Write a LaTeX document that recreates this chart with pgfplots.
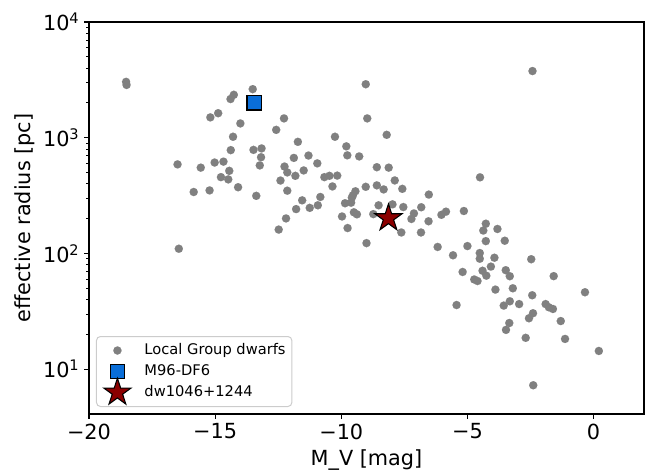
\documentclass[border=0pt]{standalone}
\usepackage{fontspec}
\setmainfont{DejaVu Sans}
\usepackage{pgfplots}
\pgfplotsset{compat=1.18}
\usepackage{pgfplotstable}

\definecolor{dotgray}{HTML}{808080}
\definecolor{dfblue}{HTML}{0A6ED8}
\definecolor{stared}{HTML}{8B0000}
\definecolor{legframe}{HTML}{CCCCCC}

% filled five-pointed star, inner radius as matplotlib's '*'
\pgfdeclareplotmark{fivestar}{%
  \pgfpathmoveto{\pgfpointpolar{90}{\pgfplotmarksize}}%
  \pgfpathlineto{\pgfpointpolar{126}{0.382\pgfplotmarksize}}%
  \pgfpathlineto{\pgfpointpolar{162}{\pgfplotmarksize}}%
  \pgfpathlineto{\pgfpointpolar{198}{0.382\pgfplotmarksize}}%
  \pgfpathlineto{\pgfpointpolar{234}{\pgfplotmarksize}}%
  \pgfpathlineto{\pgfpointpolar{270}{0.382\pgfplotmarksize}}%
  \pgfpathlineto{\pgfpointpolar{306}{\pgfplotmarksize}}%
  \pgfpathlineto{\pgfpointpolar{342}{0.382\pgfplotmarksize}}%
  \pgfpathlineto{\pgfpointpolar{18}{\pgfplotmarksize}}%
  \pgfpathlineto{\pgfpointpolar{54}{0.382\pgfplotmarksize}}%
  \pgfpathclose
  \pgfusepathqfillstroke
}

\pgfplotsset{
  lgimg/.style={legend image code/.code={%
    \begin{pgfinterruptboundingbox}
    \draw[sharp corners,mark repeat=2,mark phase=2,##1] plot coordinates {(-5pt,0pt) (0pt,0pt) (5pt,0pt)};
    \end{pgfinterruptboundingbox}
    \path[draw=none,fill=none] (-11pt,-3pt) rectangle (17pt,3pt);
  }}
}

% Local Group dwarfs: M_V [mag], r_eff [pc]
\pgfplotstableread{
mv re
-18.53 3040
-18.51 2860
-14.26 2350
-14.39 2160
-13.51 2630
-14.88 1630
-15.19 1500
-14.00 1330
-12.27 1470
-12.58 1170
-10.25 1020
-14.29 1020
-11.72 922
-9.80 843
-14.38 782
-13.48 786
-13.16 809
-13.18 679
-11.88 670
-11.30 702
-9.76 705
-9.29 690
-9.03 2900
-8.97 1470
-8.20 1060
-16.49 589
-15.02 611
-14.67 622
-13.23 577
-12.25 564
-10.95 601
-15.57 552
-14.44 518
-12.14 502
-11.82 469
-11.49 522
-10.67 457
-10.47 469
-10.16 471
-14.77 457
-14.48 437
-14.09 374
-12.41 427
-10.35 380
-15.85 340
-15.22 351
-13.37 315
-12.14 349
-11.55 288
-10.83 308
-9.44 345
-9.54 318
-9.58 304
-8.59 557
-8.12 552
-7.88 428
-9.03 377
-8.59 388
-8.32 358
-7.58 362
-6.53 323
-4.50 455
-2.42 3770
-11.79 242
-11.25 248
-10.93 261
-12.19 201
-12.48 161
-9.85 272
-9.61 275
-9.97 209
-9.75 166
-9.50 227
-9.38 218
-16.44 110
-9.00 123
-8.73 219
-8.52 261
-7.97 266
-7.54 252
-7.62 152
-7.12 222
-7.22 199
-6.83 251
-6.54 190
-6.84 152
-6.03 216
-5.85 230
-5.14 233
-6.18 114
-5.57 96.6
-5.00 116
-4.27 181
-4.37 158
-3.81 163
-4.27 128
-3.52 129
-4.51 101
-4.51 90.2
-3.93 92.0
-2.47 89.3
-4.07 77.1
-5.19 69.3
-4.40 71.0
-4.25 64.4
-3.48 71.8
-3.32 63.7
-1.58 63.8
-4.73 59.7
-4.60 57.9
-3.89 48.8
-3.20 50.1
-2.43 43.6
-0.34 46.3
-5.43 35.9
-3.56 35.5
-3.32 38.7
-2.95 36.6
-1.90 36.6
-1.77 34.3
-1.61 33.2
-2.40 30.5
-2.56 27.6
-1.30 26.1
-3.34 25.1
-3.47 21.9
-2.69 18.7
-1.13 18.3
0.21 14.4
-2.39 7.28
}\lgdwarfs

\begin{document}
\begin{tikzpicture}
\begin{axis}[
  scale only axis,
  width=416.25pt, height=294pt,
  xmin=-20, xmax=2,
  ymode=log, ymin=4.11, ymax=10000,
  xtick={-20,-15,-10,-5,0},
  xticklabels={−20,−15,−10,−5,0},
  ytick={10,100,1000,10000},
  yticklabels={10\textsuperscript{1},10\textsuperscript{2},10\textsuperscript{3},10\textsuperscript{4}},
  xtick pos=bottom, ytick pos=left,
  tick align=outside,
  major tick length=3.65pt, minor tick length=2.1pt,
  major tick style={black, line width=0.83pt},
  minor tick style={black, line width=0.63pt},
  axis line style={line width=0.83pt},
  tick label style={font=\fontsize{15.6}{18}\selectfont},
  label style={font=\fontsize{15.6}{18}\selectfont},
  xlabel={M\_V [mag]},
  ylabel={effective radius [pc]},
  xlabel style={at={(axis description cs:0.5,-0.1305)}, anchor=base},
  ylabel style={at={(axis description cs:-0.1153,0.5)}, anchor=center},
  legend cell align=left,
  legend style={
    at={(0.01261,0.01786)}, anchor=south west,
    draw=legframe, line width=0.75pt, rounded corners=3pt, fill=white,
    inner xsep=4.7pt, inner ysep=5pt,
    font=\fontsize{11}{13}\selectfont,
    row sep=4.75pt,
    nodes={inner sep=0pt, text height=8.2pt, text depth=2.8pt},
    /tikz/every odd column/.style={column sep=3.3pt},
  },
]
\addplot[dotgray, only marks, mark=*, mark size=3.1pt,
  mark options={draw=dotgray, fill=dotgray, line width=0.01pt}, lgimg]
  table[x=mv, y=re] {\lgdwarfs};
\addlegendentry{Local Group dwarfs}
\addplot[black, only marks, mark=square*, mark size=5.35pt,
  mark options={draw=black, fill=dfblue, line width=1.1pt}, lgimg]
  coordinates {(-13.45,2005)};
\addlegendentry{M96-DF6}
\addplot[black, only marks, mark=fivestar, mark size=10.7pt,
  mark options={draw=black, fill=stared, line width=0.8pt, line join=miter}, lgimg]
  coordinates {(-8.13,202)};
\addlegendentry{dw1046+1244}
\end{axis}
\pgfresetboundingbox
\useasboundingbox ([xshift=-66.75pt,yshift=-43.5pt]current axis.south west)
  rectangle ([xshift=0.75pt,yshift=16.5pt]current axis.north east);
\end{tikzpicture}
\end{document}
